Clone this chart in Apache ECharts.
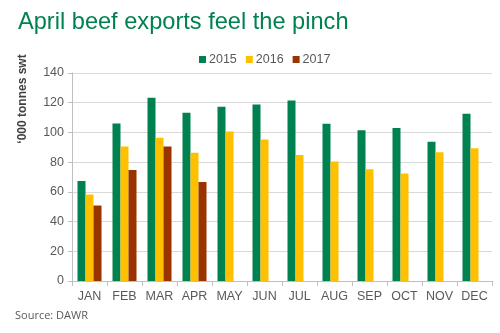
<!DOCTYPE html>
<html><head><meta charset="utf-8">
<script src="https://cdn.jsdelivr.net/npm/echarts@6/dist/echarts.min.js"></script>
<style>html,body{margin:0;padding:0;background:#fff}#c{width:500px;height:333px}</style>
</head><body><div id="c"></div>
<script>
const categories = ['JAN','FEB','MAR','APR','MAY','JUN','JUL','AUG','SEP','OCT','NOV','DEC'];
const s2015 = [67.3, 106, 123.3, 113.2, 117.2, 118.8, 121.5, 105.8, 101.5, 102.9, 93.8, 112.5];
const s2016 = [58.2, 90.6, 96.4, 86.4, 100.7, 95.3, 84.8, 80.5, 75.2, 72.3, 86.6, 89.3];
const s2017 = [50.8, 74.7, 90.6, 66.6, null, null, null, null, null, null, null, null];
const seriesNames = ['2015','2016','2017'];
const colors = ['#008150','#FFC000','#993300'];

const chart = echarts.init(document.getElementById('c'), null, {renderer:'canvas'});
const mk = (name, data, color) => ({
  name, type:'bar', data, barWidth:8, barGap:'0%',
  itemStyle:{color}, emphasis:{disabled:true}
});
chart.setOption({
  animation:false,
  title:{text:'April beef exports feel the pinch', left:13, top:5,
    textStyle:{color:'#008150', fontFamily:'Liberation Sans', fontSize:23.6, fontWeight:'normal'}},
  legend:{data:seriesNames, left:194, top:48, itemWidth:7, itemHeight:7, itemGap:9,
    icon:'rect', textStyle:{color:'#595959', fontFamily:'Liberation Sans', fontSize:12.5, padding:[0,0,0,-2]}},
  grid:{left:72, right:8, top:73, bottom:52},
  xAxis:{type:'category', data:categories,
    axisLine:{lineStyle:{color:'#bfbfbf'}},
    axisTick:{show:true, length:5, interval:0, lineStyle:{color:'#bfbfbf'}},
    axisLabel:{interval:0, color:'#595959', fontFamily:'Liberation Sans', fontSize:12.5, margin:9}},
  yAxis:{type:'value', min:0, max:140, interval:20,
    axisLine:{show:true, lineStyle:{color:'#bfbfbf'}},
    axisTick:{show:true, length:4, lineStyle:{color:'#bfbfbf'}},
    splitLine:{lineStyle:{color:'#d9d9d9'}},
    axisLabel:{color:'#595959', fontFamily:'Liberation Sans', fontSize:12.5, margin:8}},
  graphic:[
    {type:'text', left:15, top:310, style:{text:'Source: DAWR', fill:'#595959', font:'11px "Open Sans"'}},
    {type:'text', x:23, y:99, rotation:Math.PI/2, style:{text:"‘000 tonnes swt", fill:'#404040',
      font:'bold 12px "Liberation Sans"', align:'center', verticalAlign:'middle'}}
  ],
  series:[mk(seriesNames[0], s2015, colors[0]), mk(seriesNames[1], s2016, colors[1]), mk(seriesNames[2], s2017, colors[2])]
});
</script></body></html>
